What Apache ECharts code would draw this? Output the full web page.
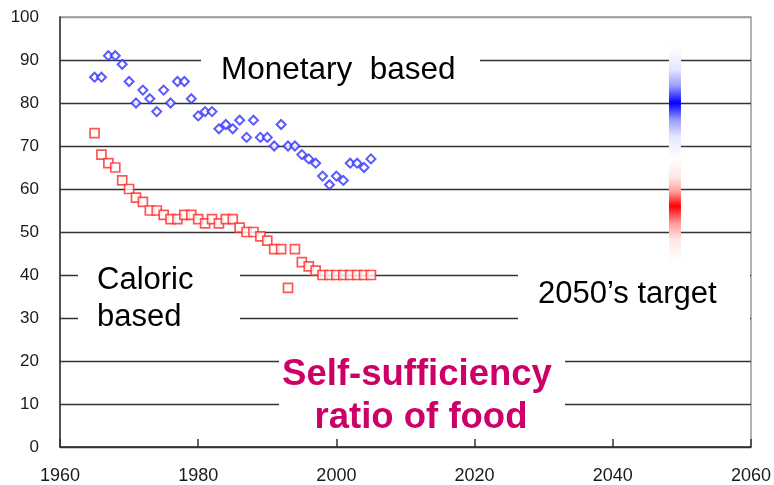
<!DOCTYPE html>
<html>
<head>
<meta charset="utf-8">
<script src="https://cdn.jsdelivr.net/npm/echarts@6/dist/echarts.min.js"></script>
<style>
  html, body { margin: 0; padding: 0; background: #fff; }
  #main { width: 774px; height: 485px; }
</style>
</head>
<body>
<div id="main"></div>
<script>
// years 1965 - 2005
var years = [];
for (var y = 1965; y <= 2005; y++) years.push(y);

// monetary based (blue diamonds)
var monetary = [86, 86, 91, 91, 89, 85, 80, 83, 81, 78,
                83, 80, 85, 85, 81, 77, 78, 78, 74, 75,
                74, 76, 72, 76, 72, 72, 70, 75, 70, 70,
                68, 67, 66, 63, 61, 63, 62, 66, 66, 65, 67];

// caloric based (red squares)
var caloric = [73, 68, 66, 65, 62, 60, 58, 57, 55, 55,
               54, 53, 53, 54, 54, 53, 52, 53, 52, 53,
               53, 51, 50, 50, 49, 48, 46, 46, 37, 46,
               43, 42, 41, 40, 40, 40, 40, 40, 40, 40, 40];

// 2050's target ranges
var targetYear = 2049;
var targetLow  = [67, 43];
var targetHigh = [93, 67];
var targetPeak = [80, 56];
var targetColor = ['#0000ff', '#ff0000'];
var targetTint  = ['#9a9aff', '#ff9a9a'];
var targetPale  = ['#e6e6ff', '#ffe6e6'];

var xTicks = [1960, 2060, 20];
var yTicks = [0, 100, 10];

var chart = echarts.init(document.getElementById('main'));

function pairs(vals) {
  return vals.map(function (v, i) { return [years[i], v]; });
}

var targetData = targetLow.map(function (lo, i) {
  return [targetYear, lo, targetHigh[i], targetPeak[i], i];
});

var option = {
  animation: false,
  backgroundColor: '#fff',
  grid: {
    left: 60, right: 23, top: 17, bottom: 38,
    show: true, borderColor: '#9a9a9a', borderWidth: 1.5
  },
  xAxis: {
    type: 'value',
    min: xTicks[0], max: xTicks[1], interval: xTicks[2],
    axisLine: { lineStyle: { color: '#333', width: 1.5 } },
    axisTick: { inside: true, length: 8, lineStyle: { color: '#333', width: 1.5 } },
    axisLabel: {
      margin: 20, fontSize: 18, color: '#1a1a1a', fontFamily: 'Liberation Sans',
      formatter: function (v) { return String(v); }
    },
    splitLine: { show: false }
  },
  yAxis: {
    type: 'value',
    min: yTicks[0], max: yTicks[1], interval: yTicks[2],
    axisLine: { show: true, lineStyle: { color: '#333', width: 1.5 } },
    axisTick: { show: false },
    axisLabel: { margin: 21, fontSize: 17, color: '#1a1a1a', fontFamily: 'Liberation Sans' },
    splitLine: {
      show: true,
      lineStyle: {
        color: ['#333', '#333', '#333', '#333', '#333', '#333', '#333', '#333', '#333', '#333', '#9a9a9a'],
        width: 1.4
      }
    }
  },
  graphic: [
    // label boxes (white, covering grid lines)
    { type: 'rect', z: 1, shape: { x: 201, y: 38, width: 279, height: 60 }, style: { fill: '#fff' } },
    { type: 'rect', z: 1, shape: { x: 78, y: 248, width: 162, height: 97 }, style: { fill: '#fff' } },
    { type: 'rect', z: 1, shape: { x: 279, y: 345, width: 286, height: 93 }, style: { fill: '#fff' } },
    { type: 'rect', z: 1, shape: { x: 518, y: 263, width: 232, height: 60 }, style: { fill: '#fff' } },
    { type: 'text', z: 1, style: { text: 'Monetary  based', x: 221, y: 70, verticalAlign: 'middle',
        font: '31.5px "Liberation Sans", Arial, sans-serif', fill: '#000' } },
    { type: 'text', z: 1, style: { text: 'Caloric', x: 97, y: 280, verticalAlign: 'middle',
        font: '31px "Liberation Sans", Arial, sans-serif', fill: '#000' } },
    { type: 'text', z: 1, style: { text: 'based', x: 97, y: 317, verticalAlign: 'middle',
        font: '31px "Liberation Sans", Arial, sans-serif', fill: '#000' } },
    { type: 'text', z: 1, style: { text: '2050\u2019s target', x: 538, y: 294, verticalAlign: 'middle',
        font: '31px "Liberation Sans", Arial, sans-serif', fill: '#000' } },
    { type: 'text', z: 1, style: { text: 'Self-sufficiency', x: 417, y: 375, align: 'center', verticalAlign: 'middle',
        font: 'bold 36.5px "Liberation Sans", Arial, sans-serif', fill: '#cc0066' } },
    { type: 'text', z: 1, style: { text: 'ratio of food', x: 421, y: 418, align: 'center', verticalAlign: 'middle',
        font: 'bold 36.5px "Liberation Sans", Arial, sans-serif', fill: '#cc0066' } }
  ],
  series: [
    {
      name: 'Monetary based',
      type: 'scatter',
      symbol: 'diamond',
      symbolSize: 9,
      data: pairs(monetary),
      itemStyle: { color: '#fff', borderColor: '#2f2fff', borderWidth: 2 }
    },
    {
      name: 'Caloric based',
      type: 'scatter',
      symbol: 'rect',
      symbolSize: 9,
      data: pairs(caloric),
      itemStyle: { color: '#fff', borderColor: '#ff2b2b', borderWidth: 1.7 }
    },
    {
      name: 'target',
      type: 'custom',
      data: targetData,
      renderItem: function (params, api) {
        var top = api.coord([api.value(0), api.value(2)]);
        var bot = api.coord([api.value(0), api.value(1)]);
        var idx = api.value(4);
        var p = (api.value(2) - api.value(3)) / (api.value(2) - api.value(1));
        var w = 12;
        return {
          type: 'rect',
          shape: { x: top[0] - w / 2, y: top[1], width: w, height: bot[1] - top[1] },
          style: {
            fill: new echarts.graphic.LinearGradient(0, 0, 0, 1, [
              { offset: 0, color: '#ffffff' },
              { offset: p * 0.4, color: targetPale[idx] },
              { offset: p * 0.7, color: targetTint[idx] },
              { offset: p, color: targetColor[idx] },
              { offset: p + (1 - p) * 0.3, color: targetTint[idx] },
              { offset: p + (1 - p) * 0.6, color: targetPale[idx] },
              { offset: 1, color: '#ffffff' }
            ])
          }
        };
      }
    }
  ]
};

chart.setOption(option);
</script>
</body>
</html>
